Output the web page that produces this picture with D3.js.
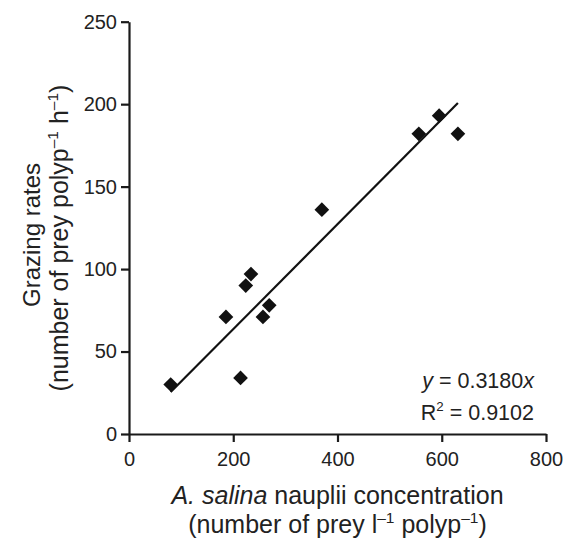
<!DOCTYPE html>
<html><head><meta charset="utf-8">
<script src="https://cdn.jsdelivr.net/npm/d3@7"></script>
<style>body{margin:0;background:#fff}svg{display:block}text{font-family:"Liberation Sans",Arial,Helvetica,sans-serif;fill:#222}</style>
</head><body>
<script>
const concentration = [80, 186, 214, 224, 234, 257, 269, 370, 556, 595, 631];
const grazing = [30, 71, 34, 90, 97, 71, 78, 136, 182, 193, 182];
const xTicks = [0, 200, 400, 600, 800];
const yTicks = [0, 50, 100, 150, 200, 250];
const slope = 0.3180;
const r2 = "0.9102";

const W = 571, H = 541;
const svg = d3.select("body").append("svg").attr("width", W).attr("height", H);
const x = d3.scaleLinear().domain([0, 800]).range([129, 546]);
const y = d3.scaleLinear().domain([0, 250]).range([434, 21.7]);
const fs = 20, ft = 25, fe = 21.5;

const gx = svg.append("g").attr("transform", `translate(0,${y(0)})`)
  .call(d3.axisBottom(x).tickValues(xTicks).tickSize(8).tickSizeOuter(0).tickPadding(10));
const gy = svg.append("g").attr("transform", `translate(${x(0)},0)`)
  .call(d3.axisLeft(y).tickValues(yTicks).tickSize(8).tickSizeOuter(0).tickPadding(4));
[gx, gy].forEach(g => {
  g.select(".domain").attr("stroke", "#1a1a1a").attr("stroke-width", 2.2);
  g.selectAll(".tick line").attr("stroke", "#1a1a1a").attr("stroke-width", 2.2);
  g.selectAll(".tick text").attr("font-size", fs).attr("fill", "#222")
    .attr("font-family", '"Liberation Sans",Arial,sans-serif');
});

// trend line
const xmin = d3.min(concentration), xmax = d3.max(concentration);
svg.append("line")
  .attr("x1", x(xmin)).attr("y1", y(slope * xmin))
  .attr("x2", x(xmax)).attr("y2", y(slope * xmax))
  .attr("stroke", "#111").attr("stroke-width", 2.2);

// markers
const sym = d3.symbol().type(d3.symbolSquare).size(108);
svg.append("g").selectAll("path").data(concentration).join("path")
  .attr("d", sym)
  .attr("transform", (d, i) => `translate(${x(d)},${y(grazing[i])}) rotate(45)`)
  .attr("fill", "#111");

function sup(t, s, f) { t.append("tspan").attr("font-size", f * 0.62).attr("dy", -f * 0.42).text(s); }

// equation
const eq = svg.append("text").attr("x", 534).attr("y", 388).attr("text-anchor", "end").attr("font-size", fe);
eq.append("tspan").attr("font-style", "italic").text("y");
eq.append("tspan").text(" = " + slope.toFixed(4));
eq.append("tspan").attr("font-style", "italic").text("x");
const rt = svg.append("text").attr("x", 534).attr("y", 420).attr("text-anchor", "end").attr("font-size", fe);
rt.append("tspan").text("R");
sup(rt, "2", fe);
rt.append("tspan").attr("dy", fe * 0.42).text(" = " + r2);

// x title
const cx = (x(0) + x(800)) / 2;
const xt1 = svg.append("text").attr("x", cx).attr("y", 504).attr("text-anchor", "middle").attr("font-size", ft);
xt1.append("tspan").attr("font-style", "italic").text("A. salina");
xt1.append("tspan").text(" nauplii concentration");
const xt2 = svg.append("text").attr("x", cx).attr("y", 533).attr("text-anchor", "middle").attr("font-size", ft);
xt2.append("tspan").text("(number of prey l");
sup(xt2, "\u20131", ft);
xt2.append("tspan").attr("dy", ft * 0.42).text(" polyp");
sup(xt2, "\u20131", ft);
xt2.append("tspan").attr("dy", ft * 0.42).text(")");

// y title
const yt1 = svg.append("text").attr("transform", `translate(40,235) rotate(-90)`).attr("text-anchor", "middle").attr("font-size", 24);
yt1.text("Grazing rates");
const yt2 = svg.append("text").attr("transform", `translate(68,238) rotate(-90)`).attr("text-anchor", "middle").attr("font-size", ft);
yt2.append("tspan").text("(number of prey polyp");
sup(yt2, "\u20131", ft);
yt2.append("tspan").attr("dy", ft * 0.42).text(" h");
sup(yt2, "\u20131", ft);
yt2.append("tspan").attr("dy", ft * 0.42).text(")");
</script>
</body></html>
